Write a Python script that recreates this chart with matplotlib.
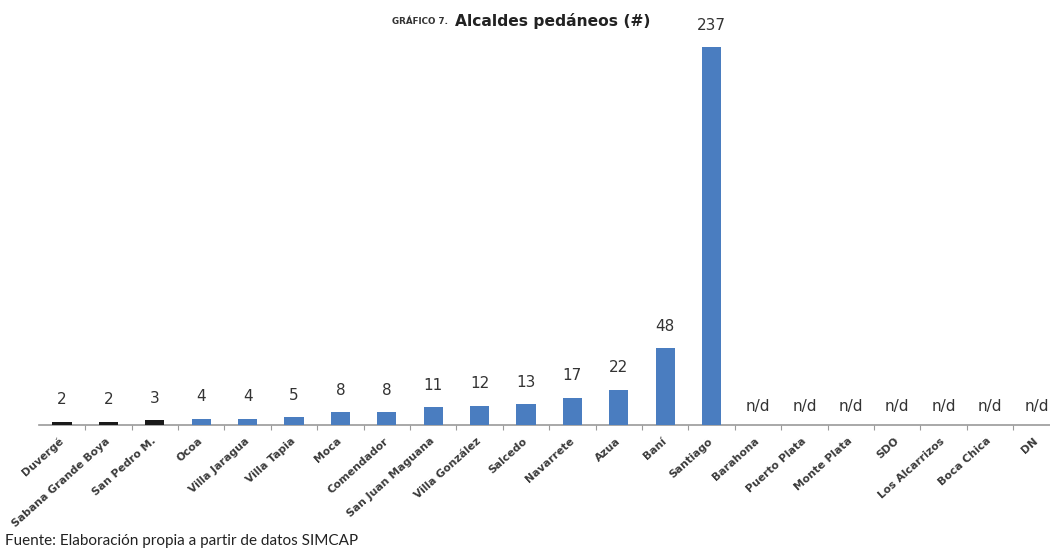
import numpy as np
import matplotlib.pyplot as plt

# datos: alcaldes pedáneos por municipio
municipios = ['Duvergé', 'Sabana Grande Boya', 'San Pedro M.', 'Ocoa', 'Villa Jaragua',
              'Villa Tapia', 'Moca', 'Comendador', 'San Juan Maguana', 'Villa González',
              'Salcedo', 'Navarrete', 'Azua', 'Baní', 'Santiago',
              'Barahona', 'Puerto Plata', 'Monte Plata', 'SDO', 'Los Alcarrizos',
              'Boca Chica', 'DN']
alcaldes = [2, 2, 3, 4, 4, 5, 8, 8, 11, 12, 13, 17, 22, 48, 237]
colores = ['#1a1a1a'] * 3 + ['#4a7dc0'] * (len(alcaldes) - 3)

W, H = 1050, 553
fig = plt.figure(figsize=(W / 100, H / 100), dpi=100)
fig.patch.set_facecolor('white')

# eje en pixeles: categoria 0 centrada en x=62, paso 46.4 px, base en y=425
paso = 46.4
x0 = 62 - paso / 2
x1 = x0 + paso * len(municipios)
base = 425
px_por_unidad = 1.595
ymax = 260
ax = fig.add_axes([x0 / W, (H - base) / H, (x1 - x0) / W, ymax * px_por_unidad / H])

x = np.arange(len(municipios))
ax.bar(x[:len(alcaldes)], alcaldes, width=0.41, color=colores, zorder=3)
ax.set_xlim(-0.5, len(municipios) - 0.5)
ax.set_ylim(0, ymax)

for s in ['top', 'right', 'left']:
    ax.spines[s].set_visible(False)
ax.spines['bottom'].set_color('#9a9a9a')
ax.spines['bottom'].set_linewidth(1.2)
ax.set_yticks([])

# marcas entre categorias, etiquetas rotadas
ax.set_xticks(np.arange(len(municipios)) + 0.5)
ax.tick_params(axis='x', length=3.5, color='#9a9a9a', labelbottom=False)
for i, nombre in enumerate(municipios):
    ax.annotate(nombre, (i, 0), xytext=(0, -10.5), textcoords='offset points',
                rotation=42, rotation_mode='anchor', ha='right', va='center',
                fontsize=7.8, fontweight='bold', color='#3a3a3a', family='DejaVu Sans')

# valores sobre las barras
for i, v in enumerate(alcaldes):
    ax.annotate(str(v), (i, v), xytext=(0, 15.8), textcoords='offset points',
                ha='center', va='center', fontsize=11, color='#333333', family='DejaVu Sans')
for i in range(len(alcaldes), len(municipios)):
    ax.annotate('n/d', (i, 0), xytext=(0, 13), textcoords='offset points',
                ha='center', va='center', fontsize=11, color='#333333', family='DejaVu Sans',
                annotation_clip=False)

# titulo
fig.text(392 / W, 1 - 22 / H, 'GRÁFICO 7.', fontsize=6.3, fontweight='bold',
         color='#333333', family='DejaVu Sans', va='center', ha='left')
fig.text(455 / W, 1 - 21 / H, 'Alcaldes pedáneos (#)', fontsize=11.2, fontweight='bold',
         color='#222222', family='DejaVu Sans', va='center', ha='left')

# fuente
fig.text(5 / W, 1 - 541 / H, 'Fuente: Elaboración propia a partir de datos SIMCAP',
         fontsize=11, color='#222222', family='Lato', va='center', ha='left')

fig.savefig('out.png', dpi=100, facecolor='white')
